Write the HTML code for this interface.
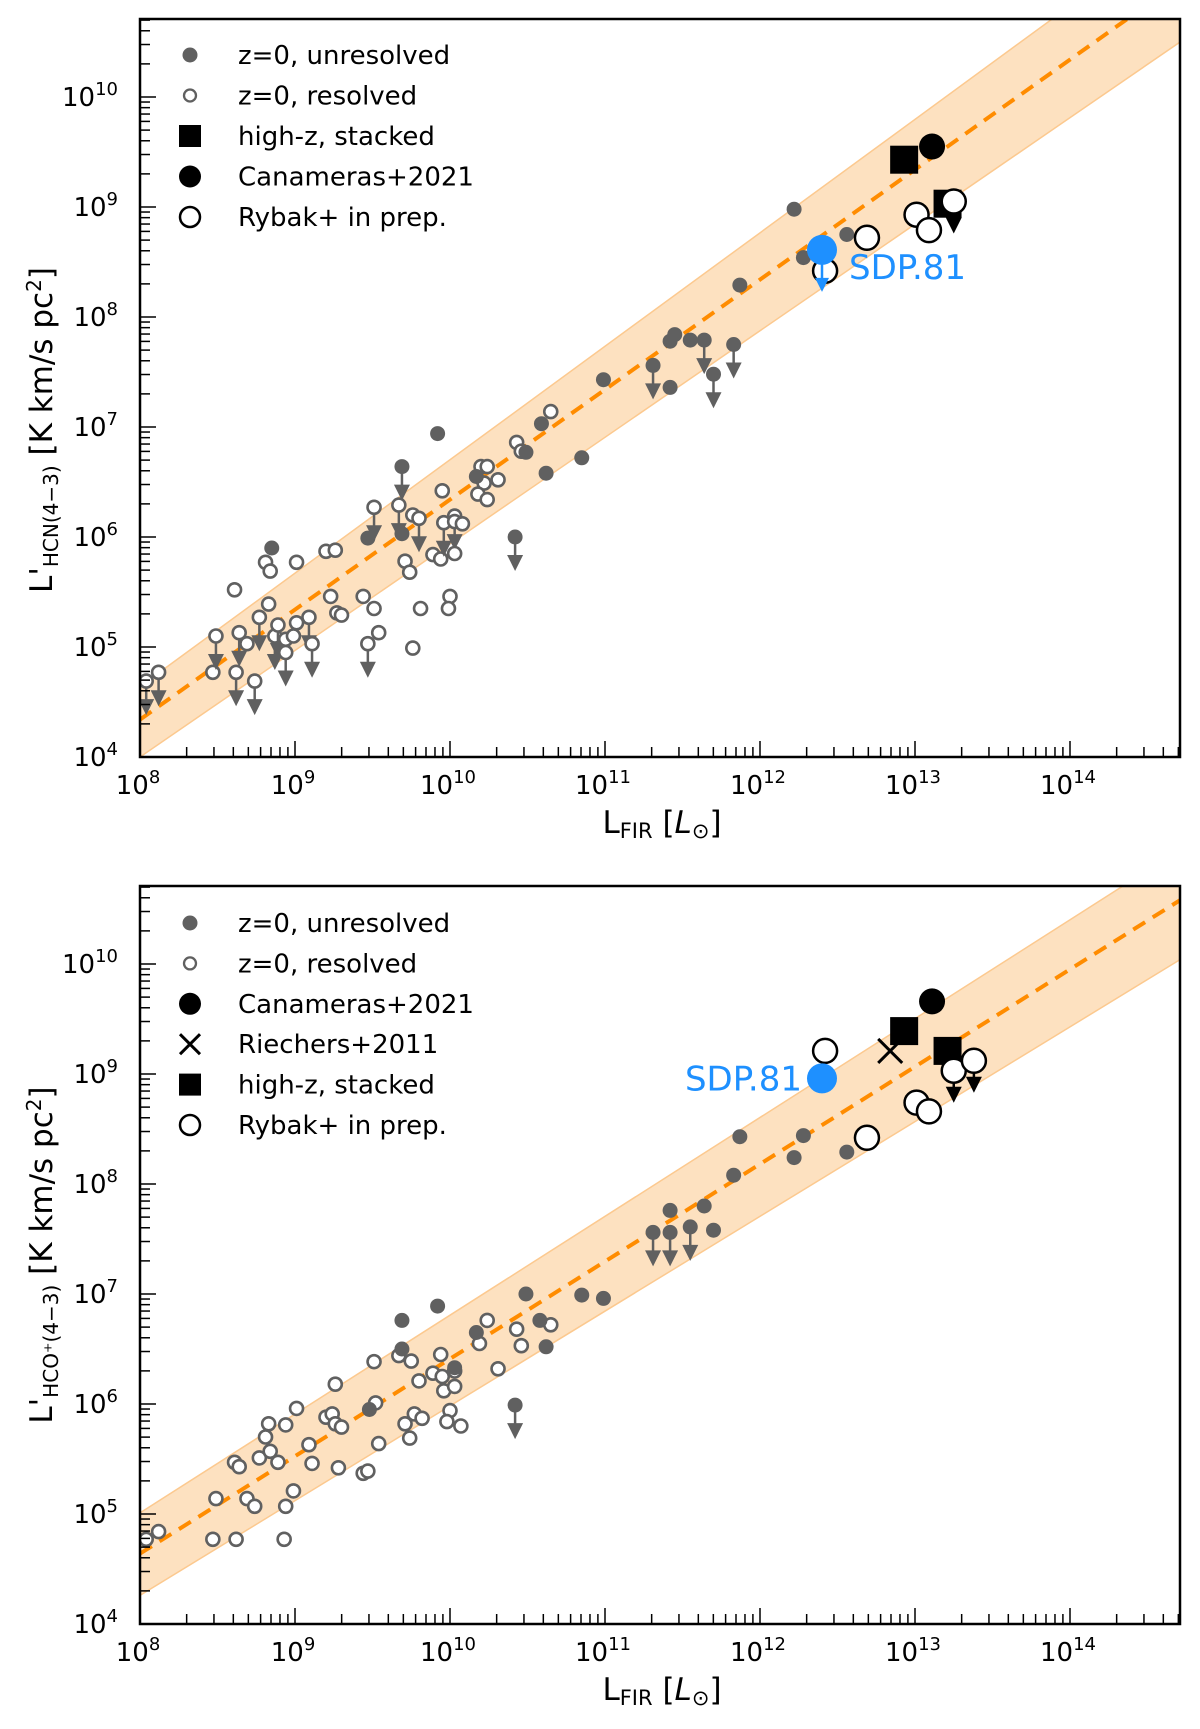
<!DOCTYPE html>
<html><head><meta charset="utf-8"><style>
html,body{margin:0;padding:0;background:#fff;}
svg{display:block;font-family:"DejaVu Sans","Liberation Sans",sans-serif;}
</style></head><body>
<svg id="fig" width="1200" height="1729" viewBox="0 0 1200 1729" xmlns="http://www.w3.org/2000/svg"></svg>
<script>
// ===== Panel 1 (HCN 4-3) data : log10 values =====
const hcnResLx = [8.04,8.12,8.47,8.49,8.61,8.62,8.64,8.69,8.74,8.77,8.83,8.81,8.84,8.87,8.89,8.94,8.94,8.99,9.01,9.01,9.09,9.11,9.20,9.26,9.23,9.27,9.30,9.44,9.51,9.54,9.47,9.51,9.67,9.71,9.74,9.76,9.81,9.76,9.80,9.89,9.94,9.95,9.96,10.00,9.99,10.03,10.03,10.08,10.03,10.20,10.24,10.22,10.18,10.24,10.31,10.43,10.46,10.65];
const hcnResLy = [4.69,4.77,4.77,5.10,5.52,4.77,5.13,5.03,4.69,5.27,5.39,5.77,5.69,5.10,5.20,5.07,4.95,5.10,5.22,5.77,5.27,5.03,5.87,5.88,5.46,5.31,5.29,5.46,5.35,5.13,5.03,6.27,6.29,5.78,5.68,4.99,5.35,6.20,6.17,5.84,5.80,6.42,6.13,5.46,5.35,6.19,6.14,6.12,5.85,6.64,6.64,6.49,6.39,6.34,6.52,6.86,6.78,7.14];
const hcnResUL = [1,1,0,1,0,1,1,0,1,1,0,0,0,1,1,0,1,0,0,0,1,1,0,0,0,0,0,0,0,0,1,1,1,0,0,0,0,0,1,0,0,0,1,0,0,1,0,0,0,0,0,0,0,0,0,0,0,0];
const hcnUnrLx = [9.92,9.69,8.85,9.47,9.69,10.17,10.49,10.59,10.62,10.42,12.22,12.28,12.56,11.87,11.42,11.45,11.55,11.42,10.99,10.85,11.31,11.64,11.70,11.83];
const hcnUnrLy = [6.94,6.64,5.90,5.99,6.03,6.55,6.77,7.03,6.58,6.00,8.98,8.54,8.75,8.29,7.78,7.84,7.79,7.36,7.43,6.72,7.56,7.79,7.48,7.75];
const hcnUnrUL = [0,1,0,0,0,0,0,0,0,1,0,0,0,0,0,0,0,0,0,0,1,1,1,1];
const hcnStackLx = [13.21,12.93];
const hcnStackLy = [9.03,9.43];
const hcnCanLx = [13.11];
const hcnCanLy = [9.55];
const hcnRybLx = [12.42,12.69,13.01,13.09,13.25];
const hcnRybLy = [8.42,8.72,8.93,8.79,9.05];
const hcnRybUL = [0,0,0,0,1];
const hcnSdpLx = [12.40];
const hcnSdpLy = [8.61];

// ===== Panel 2 (HCO+ 4-3) data =====
const hcoResLx = [8.04,8.12,8.47,8.62,8.93,8.49,8.69,8.74,8.94,8.99,8.61,8.64,8.77,8.84,8.89,8.81,8.83,8.94,9.01,9.09,9.11,9.20,9.24,9.26,9.30,9.26,9.28,9.44,9.47,9.54,9.51,9.52,9.67,9.75,9.71,9.77,9.82,9.74,9.80,9.89,9.94,9.95,9.96,10.03,10.03,10.00,9.98,10.07,10.24,10.19,10.31,10.43,10.46,10.65];
const hcoResLy = [4.77,4.84,4.77,4.77,4.77,5.14,5.14,5.07,5.07,5.21,5.47,5.43,5.51,5.57,5.47,5.70,5.82,5.81,5.96,5.63,5.46,5.88,5.91,5.82,5.79,6.18,5.42,5.37,5.39,5.64,6.385,6.01,6.44,6.39,5.82,5.91,5.87,5.69,6.21,6.28,6.45,6.25,6.12,6.30,6.16,5.94,5.84,5.80,6.76,6.55,6.32,6.68,6.53,6.72];
const hcoUnrLx = [9.69,9.92,9.69,9.48,10.49,10.17,10.58,10.62,10.42,10.03,11.87,12.22,12.28,12.56,11.83,11.64,11.42,11.31,11.42,11.55,11.70,10.99,10.85];
const hcoUnrLy = [6.76,6.89,6.50,5.95,7.00,6.65,6.76,6.52,5.99,6.33,8.43,8.24,8.44,8.29,8.08,7.80,7.76,7.56,7.56,7.61,7.58,6.96,6.99];
const hcoUnrUL = [0,0,0,0,0,0,0,0,1,0,0,0,0,0,0,0,0,1,1,1,0,0,0];
const hcoStackLx = [12.93,13.21];
const hcoStackLy = [9.39,9.21];
const hcoCanLx = [13.11];
const hcoCanLy = [9.66];
const hcoRieLx = [12.84];
const hcoRieLy = [9.21];
const hcoRybLx = [12.42,12.69,13.01,13.09,13.25,13.38];
const hcoRybLy = [9.21,8.42,8.74,8.66,9.03,9.12];
const hcoRybUL = [0,0,0,0,1,1];
const hcoSdpLx = [12.40];
const hcoSdpLy = [8.96];

// ===== fit lines / bands (log x, log y endpoints) =====
const hcnFit = [[8,4.34],[14.71,11.05]];
const hcnBandUp = [[8,4.64],[14.71,11.56]];
const hcnBandLo = [[8,4.00],[14.71,10.50]];
const hcoFit = [[8,4.64],[14.71,10.58]];
const hcoBandUp = [[8,5.01],[14.71,11.04]];
const hcoBandLo = [[8,4.26],[14.71,10.04]];

const NS = "http://www.w3.org/2000/svg";
const svg = document.getElementById('fig');
function mk(tag, attrs, parent){
  const e = document.createElementNS(NS, tag);
  for (const k in attrs) e.setAttribute(k, attrs[k]);
  (parent||svg).appendChild(e);
  return e;
}
const GRAY = "#606060";

function panel(cfg){
  const L=140, R=1180, T=cfg.top, B=cfg.top+738;
  const X = lx => L + (lx-8)*155;
  const Y = ly => B - (ly-4)*110;
  const g = mk('g', {});
  
  
  const cid = 'clip'+cfg.name;
  const cp = mk('clipPath', {id:cid}, g);
  mk('rect', {x:L, y:T, width:R-L, height:B-T}, cp);
  const pg = mk('g', {'clip-path':'url(#'+cid+')'}, g);
  const bu = cfg.bandUp, bl = cfg.bandLo;
  const band = mk('polygon', {points:[bu[0],bu[1],bl[1],bl[0]].map(p=>X(p[0])+','+Y(p[1])).join(' '), fill:'#fde1c0', stroke:'#fcc98f', 'stroke-width':1.5}, pg);
  
  
  const fit = mk('line', {x1:X(cfg.fit[0][0]), y1:Y(cfg.fit[0][1]), x2:X(cfg.fit[1][0]), y2:Y(cfg.fit[1][1]), stroke:'#ff8c00', 'stroke-width':4, 'stroke-dasharray':'14,9'}, pg);
  
  
  function arrow(x,y,color,len){
    mk('line',{x1:x,y1:y,x2:x,y2:y+len,stroke:color,'stroke-width':2.5},pg);
    const a = mk('polygon',{points:(x-8)+','+(y+len-4)+' '+(x+8)+','+(y+len-4)+' '+x+','+(y+len+12),fill:color},pg);
    
    
  }
  cfg.resLx.forEach((lx,i)=>{
    const x=X(lx), y=Y(cfg.resLy[i]);
    if (cfg.resUL && cfg.resUL[i]) arrow(x,y,GRAY,22);
    const c = mk('circle',{cx:x,cy:y,r:6.5,fill:'#fff',stroke:GRAY,'stroke-width':2.6},pg);
    
    
  });
  cfg.unrLx.forEach((lx,i)=>{
    const x=X(lx), y=Y(cfg.unrLy[i]);
    if (cfg.unrUL[i]) arrow(x,y,GRAY,22);
    const c = mk('circle',{cx:x,cy:y,r:7.5,fill:GRAY},pg);
    
    
  });
  cfg.rybLx.forEach((lx,i)=>{ if (cfg.rybUL[i]) arrow(X(lx),Y(cfg.rybLy[i]),'#000',20); });
  cfg.stackLx.forEach((lx,i)=>{
    const s = mk('rect',{x:X(lx)-14,y:Y(cfg.stackLy[i])-14,width:28,height:28,fill:'#000'},pg);
    
    
  });
  cfg.canLx.forEach((lx,i)=>{
    const c = mk('circle',{cx:X(lx),cy:Y(cfg.canLy[i]),r:13,fill:'#000'},pg);
    
    
  });
  if (cfg.rieLx) cfg.rieLx.forEach((lx,i)=>{
    const x=X(lx), y=Y(cfg.rieLy[i]);
    const p = mk('path',{d:`M${x-12},${y-12}L${x+12},${y+12}M${x-12},${y+12}L${x+12},${y-12}`,stroke:'#000','stroke-width':3},pg);
    
    
  });
  cfg.rybLx.forEach((lx,i)=>{
    const c = mk('circle',{cx:X(lx),cy:Y(cfg.rybLy[i]),r:12,fill:'#fff',stroke:'#000','stroke-width':2.5},pg);
    
    
  });
  cfg.sdpLx.forEach((lx,i)=>{
    const x=X(lx), y=Y(cfg.sdpLy[i]);
    if (cfg.sdpArrow){
      mk('line',{x1:x,y1:y,x2:x,y2:y+32,stroke:'#1e90ff','stroke-width':2.5},pg);
      mk('polygon',{points:(x-7)+','+(y+28)+' '+(x+7)+','+(y+28)+' '+x+','+(y+42),fill:'#1e90ff'},pg);
    }
    const c = mk('circle',{cx:x,cy:y,r:15,fill:'#1e90ff'},pg);
    
    
    const t = mk('text',{x:x+cfg.sdpDx,y:y+cfg.sdpDy,'font-size':34,fill:'#1e90ff','text-anchor':cfg.sdpAnchor},g);
    t.textContent='SDP.81';
    
    
  });
  const fr = mk('rect',{x:L,y:T,width:R-L,height:B-T,fill:'none',stroke:'#000','stroke-width':2.5},g);
  
  
  for (let d=8; d<=14; d++){
    for (let m=1; m<=9; m++){
      const lx = d+Math.log10(m);
      if (lx>14.71) continue;
      const x=X(lx);
      mk('line',{x1:x,y1:B,x2:x,y2:B-(m===1?16:10),stroke:'#000','stroke-width':1.5},g);
    }
    const t = mk('text',{x:X(d)-2,y:B+37,'font-size':26,'text-anchor':'middle'},g);
    t.innerHTML = '10<tspan dy="-11" font-size="18">'+d+'</tspan>';
    
    
  }
  for (let d=4; d<=10; d++){
    for (let m=1; m<=9; m++){
      const ly = d+Math.log10(m);
      if (ly>10.71) continue;
      const y=Y(ly);
      mk('line',{x1:L,y1:y,x2:L+(m===1?16:10),y2:y,stroke:'#000','stroke-width':1.5},g);
    }
    const t = mk('text',{x:118,y:Y(d)+9,'font-size':26,'text-anchor':'end'},g);
    t.innerHTML = '10<tspan dy="-11" font-size="18">'+d+'</tspan>';
    
    
  }
  const xt = mk('text',{x:662,y:B+76,'font-size':31,'text-anchor':'middle'},g);
  xt.innerHTML = 'L<tspan font-size="21" dy="5">FIR</tspan><tspan dy="-5"> [</tspan><tspan font-style="italic">L</tspan><tspan font-size="21" dy="5">⊙</tspan><tspan dy="-5">]</tspan>';
  
  
  const yt = mk('text',{x:0,y:0,'font-size':31,'text-anchor':'middle',transform:`translate(52,${cfg.ytc}) rotate(-90)`},g);
  yt.innerHTML = "L'<tspan font-size=\"20\" dy=\"6\">"+cfg.ysub+"</tspan><tspan dy=\"-6\"> [K km/s pc</tspan><tspan font-size=\"20\" dy=\"-11\">2</tspan><tspan dy=\"11\">]</tspan>";
  
  
  cfg.legend.forEach((e,i)=>{
    const y = cfg.legTop + i*cfg.legStep, x=190;
    const lg = mk('g',{},g);
    
    
    if (e[0]==='unr') mk('circle',{cx:x,cy:y,r:7.5,fill:GRAY},lg);
    if (e[0]==='res') mk('circle',{cx:x,cy:y,r:6,fill:'#fff',stroke:GRAY,'stroke-width':2.3},lg);
    if (e[0]==='sq') mk('rect',{x:x-11,y:y-11,width:22,height:22,fill:'#000'},lg);
    if (e[0]==='can') mk('circle',{cx:x,cy:y,r:11,fill:'#000'},lg);
    if (e[0]==='x') mk('path',{d:`M${x-10},${y-10}L${x+10},${y+10}M${x-10},${y+10}L${x+10},${y-10}`,stroke:'#000','stroke-width':3},lg);
    if (e[0]==='ryb') mk('circle',{cx:x,cy:y,r:10,fill:'#fff',stroke:'#000','stroke-width':2.5},lg);
    const t = mk('text',{x:238,y:y+9,'font-size':26},lg);
    t.textContent = e[1];
  });
}

panel({name:'hcn-panel', top:19, fit:hcnFit, bandUp:hcnBandUp, bandLo:hcnBandLo,
  resLx:hcnResLx, resLy:hcnResLy, resUL:hcnResUL, unrLx:hcnUnrLx, unrLy:hcnUnrLy, unrUL:hcnUnrUL,
  stackLx:hcnStackLx, stackLy:hcnStackLy, canLx:hcnCanLx, canLy:hcnCanLy,
  rybLx:hcnRybLx, rybLy:hcnRybLy, rybUL:hcnRybUL, sdpLx:hcnSdpLx, sdpLy:hcnSdpLy, sdpArrow:true, sdpDx:27, sdpDy:29, sdpAnchor:'start',
  ysub:'HCN(4−3)', ytc:430, legTop:55, legStep:40.5,
  legend:[['unr','z=0, unresolved'],['res','z=0, resolved'],['sq','high-z, stacked'],['can','Canameras+2021'],['ryb','Rybak+ in prep.']]});

panel({name:'hco-panel', top:886, fit:hcoFit, bandUp:hcoBandUp, bandLo:hcoBandLo,
  resLx:hcoResLx, resLy:hcoResLy, resUL:null, unrLx:hcoUnrLx, unrLy:hcoUnrLy, unrUL:hcoUnrUL,
  stackLx:hcoStackLx, stackLy:hcoStackLy, canLx:hcoCanLx, canLy:hcoCanLy, rieLx:hcoRieLx, rieLy:hcoRieLy,
  rybLx:hcoRybLx, rybLy:hcoRybLy, rybUL:hcoRybUL, sdpLx:hcoSdpLx, sdpLy:hcoSdpLy, sdpArrow:false, sdpDx:-20, sdpDy:12, sdpAnchor:'end',
  ysub:'HCO⁺(4−3)', ytc:1255, legTop:923, legStep:40.4,
  legend:[['unr','z=0, unresolved'],['res','z=0, resolved'],['can','Canameras+2021'],['x','Riechers+2011'],['sq','high-z, stacked'],['ryb','Rybak+ in prep.']]});
</script>
</body></html>
